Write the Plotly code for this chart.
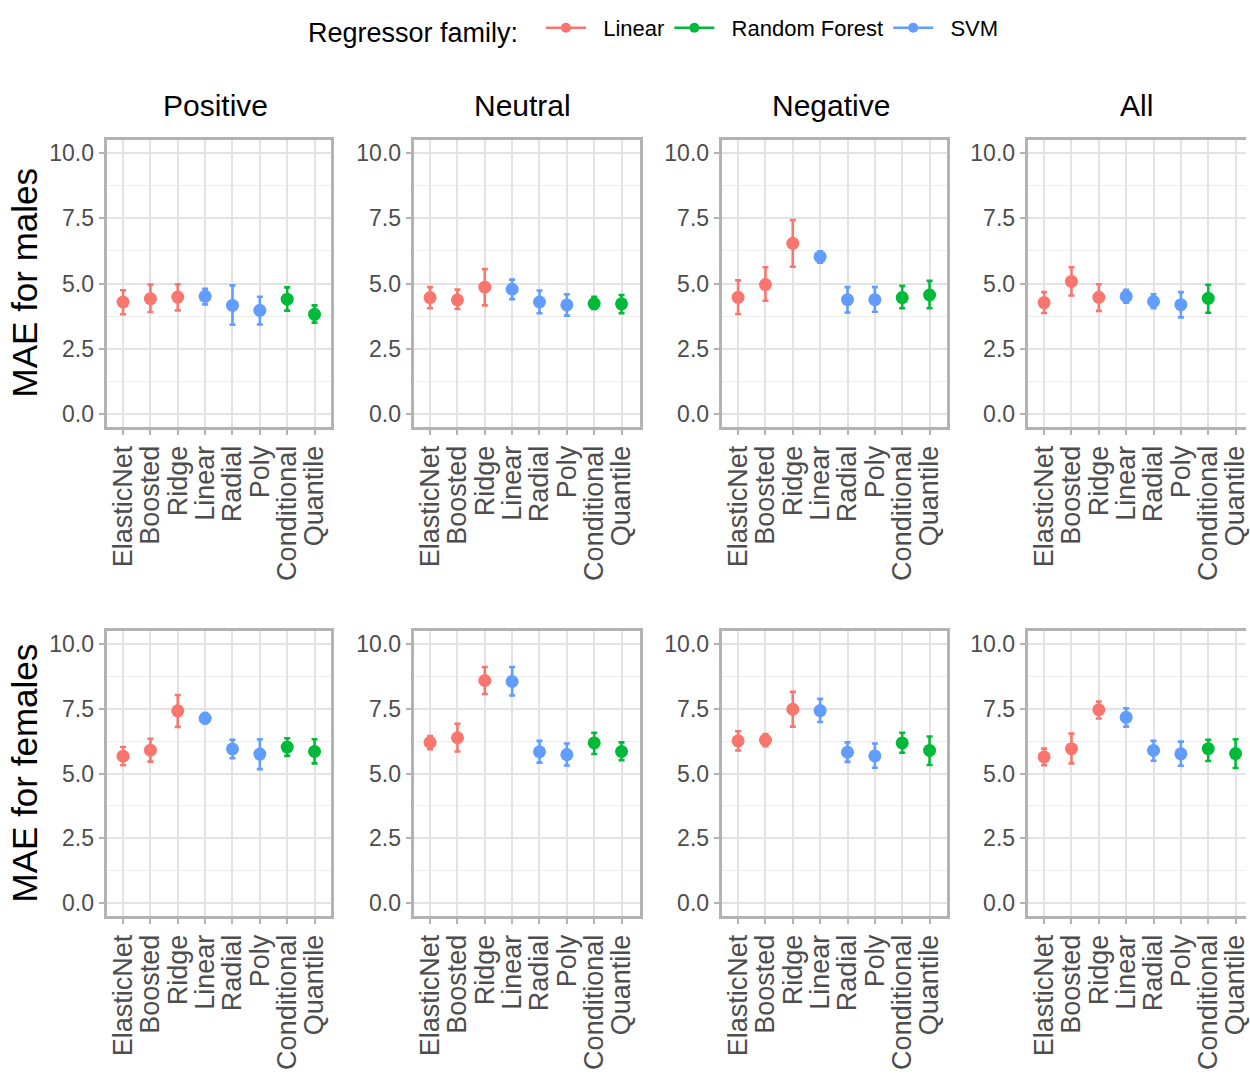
import plotly.graph_objects as go

# ---------------- data ----------------
models = ["ElasticNet", "Boosted", "Ridge", "Linear", "Radial", "Poly", "Conditional", "Quantile"]
families = ["Linear", "Linear", "Linear", "SVM", "SVM", "SVM", "Random Forest", "Random Forest"]
sentiments = ["Positive", "Neutral", "Negative", "All"]
row_labels = ["MAE for males", "MAE for females"]
family_order = ["Linear", "Random Forest", "SVM"]
family_colors = {"Linear": "#F8766D", "Random Forest": "#00BA38", "SVM": "#619CFF"}
y_ticks = [0, 2.5, 5, 7.5, 10]
y_ticklabels = ["0.0", "2.5", "5.0", "7.5", "10.0"]

# males: mean, lower, upper per sentiment
males_pos_mean = [4.29, 4.42, 4.48, 4.51, 4.16, 3.97, 4.40, 3.82]
males_pos_low = [3.82, 3.91, 3.97, 4.20, 3.42, 3.43, 3.96, 3.50]
males_pos_high = [4.74, 4.96, 4.97, 4.80, 4.93, 4.49, 4.85, 4.16]

males_neu_mean = [4.46, 4.37, 4.86, 4.78, 4.29, 4.18, 4.23, 4.22]
males_neu_low = [4.05, 4.02, 4.16, 4.40, 3.86, 3.77, 4.02, 3.86]
males_neu_high = [4.86, 4.77, 5.55, 5.15, 4.73, 4.59, 4.49, 4.56]

males_neg_mean = [4.47, 4.96, 6.54, 6.02, 4.38, 4.38, 4.46, 4.56]
males_neg_low = [3.83, 4.34, 5.64, 5.80, 3.89, 3.92, 4.05, 4.05]
males_neg_high = [5.12, 5.62, 7.43, 6.23, 4.86, 4.86, 4.91, 5.10]

males_all_mean = [4.27, 5.08, 4.47, 4.51, 4.31, 4.19, 4.43, None]
males_all_low = [3.87, 4.54, 3.95, 4.26, 4.05, 3.70, 3.88, None]
males_all_high = [4.67, 5.62, 4.97, 4.76, 4.59, 4.67, 4.95, None]

# females
females_pos_mean = [5.67, 5.90, 7.42, 7.13, 5.95, 5.75, 6.02, 5.85]
females_pos_low = [5.32, 5.46, 6.80, 6.94, 5.59, 5.17, 5.68, 5.39]
females_pos_high = [6.02, 6.34, 8.03, 7.33, 6.30, 6.32, 6.36, 6.32]

females_neu_mean = [6.20, 6.38, 8.59, 8.55, 5.84, 5.73, 6.18, 5.85]
females_neu_low = [5.94, 5.85, 8.07, 8.01, 5.42, 5.31, 5.75, 5.51]
females_neu_high = [6.45, 6.92, 9.11, 9.11, 6.26, 6.16, 6.57, 6.20]

females_neg_mean = [6.26, 6.29, 7.48, 7.43, 5.82, 5.68, 6.18, 5.89]
females_neg_low = [5.89, 6.05, 6.81, 6.99, 5.45, 5.22, 5.80, 5.33]
females_neg_high = [6.63, 6.52, 8.15, 7.88, 6.20, 6.16, 6.57, 6.43]

females_all_mean = [5.64, 5.96, 7.46, 7.17, 5.89, 5.76, 5.96, 5.77]
females_all_low = [5.32, 5.39, 7.12, 6.81, 5.49, 5.30, 5.48, 5.21]
females_all_high = [5.96, 6.54, 7.78, 7.52, 6.26, 6.23, 6.30, 6.32]

panels = [
    [(males_pos_mean, males_pos_low, males_pos_high),
     (males_neu_mean, males_neu_low, males_neu_high),
     (males_neg_mean, males_neg_low, males_neg_high),
     (males_all_mean, males_all_low, males_all_high)],
    [(females_pos_mean, females_pos_low, females_pos_high),
     (females_neu_mean, females_neu_low, females_neu_high),
     (females_neg_mean, females_neg_low, females_neg_high),
     (females_all_mean, females_all_low, females_all_high)],
]

# ---------------- layout geometry ----------------
W, H = 1250, 1079
col_px = [(107, 332), (415, 642), (724, 950), (1031, 1250)]
row_px = [(140, 427), (631, 916)]
unit = 225 / 8.2

FONT = "Liberation Sans, Arial, sans-serif"

fig = go.Figure()
layout = dict(
    width=W, height=H,
    margin=dict(l=0, r=0, t=0, b=0),
    paper_bgcolor="white", plot_bgcolor="white",
    showlegend=True,
)

annotations = []
idx = 0
for r in range(2):
    for c in range(4):
        idx += 1
        xa = "x" if idx == 1 else f"x{idx}"
        ya = "y" if idx == 1 else f"y{idx}"
        xkey = "xaxis" if idx == 1 else f"xaxis{idx}"
        ykey = "yaxis" if idx == 1 else f"yaxis{idx}"
        x0, x1 = col_px[c]
        y0, y1 = row_px[r]
        xr_hi = -0.6 + (x1 - x0) / unit
        layout[xkey] = dict(
            domain=[x0 / W, x1 / W], anchor=ya, type="category",
            categoryorder="array", categoryarray=models,
            tickmode="array", tickvals=models, ticktext=models,
            range=[-0.6, xr_hi],
            showgrid=True, gridcolor="#E3E3E3", gridwidth=1.8,
            showline=True, linecolor="#B3B3B3", linewidth=3, mirror=True,
            ticks="outside", ticklen=5, tickcolor="#B3B3B3", tickwidth=1.5,
            tickangle=-90, tickfont=dict(family=FONT, size=27, color="#4D4D4D"),
            zeroline=False, fixedrange=True,
        )
        layout[ykey] = dict(
            domain=[1 - y1 / H, 1 - y0 / H], anchor=xa,
            range=[-0.5, 10.5], tickvals=y_ticks, ticktext=y_ticklabels,
            showgrid=True, gridcolor="#E3E3E3", gridwidth=1.8,
            minor=dict(tickvals=[1.25, 3.75, 6.25, 8.75], showgrid=True,
                       gridcolor="#EDEDED", gridwidth=1.2, ticks=""),
            showline=True, linecolor="#B3B3B3", linewidth=3,
            mirror=(c != 3),
            ticks="outside", ticklen=5, tickcolor="#B3B3B3", tickwidth=1.5,
            tickfont=dict(family=FONT, size=23, color="#4D4D4D"),
            zeroline=False, fixedrange=True,
        )
        mean, low, high = panels[r][c]
        for fam in family_order:
            ids = [i for i in range(len(models)) if families[i] == fam and mean[i] is not None]
            if not ids:
                continue
            fig.add_trace(go.Scatter(
                x=[models[i] for i in ids],
                y=[mean[i] for i in ids],
                error_y=dict(type="data", symmetric=False,
                             array=[high[i] - mean[i] for i in ids],
                             arrayminus=[mean[i] - low[i] for i in ids],
                             color=family_colors[fam], thickness=2.6, width=3),
                mode="markers",
                marker=dict(color=family_colors[fam], size=13),
                xaxis=xa, yaxis=ya, showlegend=False, legendgroup=fam,
                name=fam,
            ))
        if r == 0:
            annotations.append(dict(
                text=sentiments[c], x=((x0 + min(x0 + 225, x1 + 6)) / 2 - 3) / W, y=1 - 106 / H,
                xref="paper", yref="paper", showarrow=False,
                xanchor="center", yanchor="middle",
                font=dict(family=FONT, size=30, color="black"),
            ))
    annotations.append(dict(
        text=row_labels[r], x=25 / W, y=1 - ((row_px[r][0] + row_px[r][1]) / 2 - 1) / H,
        xref="paper", yref="paper", showarrow=False, textangle=-90,
        xanchor="center", yanchor="middle",
        font=dict(family=FONT, size=35, color="black"),
    ))

# legend entries (line + point glyph)
for fam in family_order:
    fig.add_trace(go.Scatter(
        x=[None], y=[None], mode="lines+markers", name="\u00a0\u00a0" + fam,
        line=dict(color=family_colors[fam], width=2.6),
        marker=dict(color=family_colors[fam], size=10),
        legendgroup=fam, showlegend=True, xaxis="x", yaxis="y",
    ))

layout["legend"] = dict(
    orientation="h", x=657 / W, xanchor="center", y=1 - 30 / H, yanchor="middle",
    title=dict(text="Regressor family:  ", font=dict(family=FONT, size=27, color="black")),
    font=dict(family=FONT, size=22, color="black"),
    itemwidth=40, bgcolor="rgba(0,0,0,0)",
)
layout["annotations"] = annotations
fig.update_layout(**layout)

fig.write_html("out.html", config={"displayModeBar": False},
               post_script="document.body.style.margin='0';document.body.style.overflow='hidden';")
